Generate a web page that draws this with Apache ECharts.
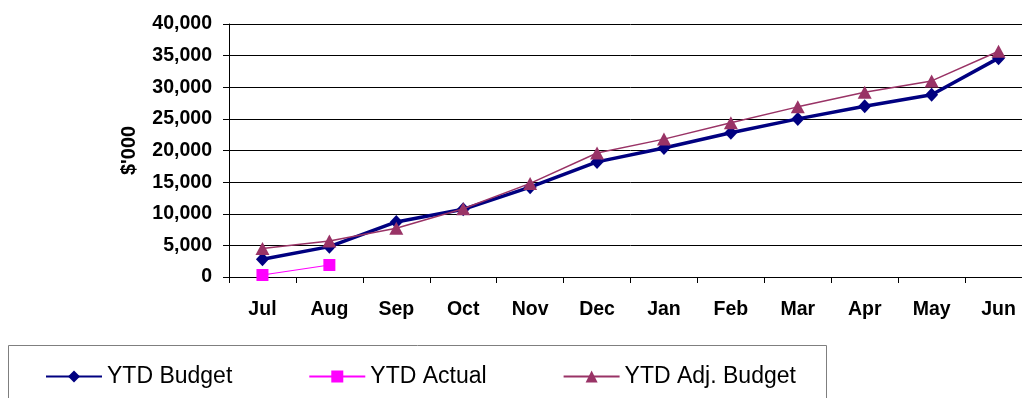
<!DOCTYPE html>
<html>
<head>
<meta charset="utf-8">
<script src="https://cdn.jsdelivr.net/npm/echarts@6/dist/echarts.min.js"></script>
<style>
  html, body { margin: 0; padding: 0; background: #fff; overflow: hidden; width: 1022px; height: 398px; }
  /* drawing surface is a little wider than the page: the last category runs off the right edge */
  #chart { width: 1032px; height: 398px; }
</style>
</head>
<body>
<div id="chart"></div>
<script>
// Financial year months
const months = ['Jul', 'Aug', 'Sep', 'Oct', 'Nov', 'Dec', 'Jan', 'Feb', 'Mar', 'Apr', 'May', 'Jun'];

// Year-to-date figures, $'000
const ytdBudget = [2800, 4800, 8700, 10700, 14200, 18200, 20400, 22800, 25000, 27000, 28800, 34600];
const ytdActual = [320, 1900, null, null, null, null, null, null, null, null, null, null];
const ytdAdjBudget = [4500, 5700, 7700, 10800, 14800, 19600, 21800, 24400, 26900, 29200, 31000, 35700];

// Value axis ticks
const yMin = 0, yMax = 40000, yStep = 5000;

const FONT = '"Liberation Sans", Arial, sans-serif';

const chart = echarts.init(document.getElementById('chart'), null, { renderer: 'canvas' });

chart.setOption({
  animation: false,
  backgroundColor: '#ffffff',
  textStyle: { fontFamily: FONT, color: '#000' },
  grid: { left: 229, top: 24, right: 0, bottom: 121, containLabel: false },
  graphic: [{
    type: 'rect',
    shape: { x: 8.5, y: 345.5, width: 818, height: 80 },
    style: { fill: 'none', stroke: '#7f7f7f', lineWidth: 1 },
    silent: true, z: -1
  }],
  legend: {
    left: 45,
    top: 365,
    padding: 0,
    itemGap: 76,
    itemWidth: 56,
    itemHeight: 15,
    textStyle: { fontFamily: FONT, fontSize: 23, color: '#000', padding: [0, 0, 0, 0] },
    data: ['YTD Budget', 'YTD Actual', 'YTD Adj. Budget']
  },
  xAxis: {
    type: 'category',
    data: months,
    boundaryGap: true,
    axisLine: { lineStyle: { color: '#000', width: 1 } },
    axisTick: { show: true, inside: false, length: 6, alignWithLabel: false, lineStyle: { color: '#000' } },
    axisLabel: { fontFamily: FONT, fontSize: 19.5, fontWeight: 'bold', color: '#000', margin: 23, interval: 0 },
    splitLine: { show: false }
  },
  yAxis: {
    type: 'value',
    min: yMin,
    max: yMax,
    interval: yStep,
    name: "$'000",
    nameLocation: 'middle',
    nameGap: 90,
    nameRotate: 90,
    nameTextStyle: { fontFamily: FONT, fontSize: 20, fontWeight: 'bold', color: '#000' },
    axisLine: { show: true, lineStyle: { color: '#000', width: 1 } },
    axisTick: { show: true, inside: false, length: 6, lineStyle: { color: '#000' } },
    axisLabel: {
      fontFamily: FONT, fontSize: 19.5, fontWeight: 'bold', color: '#000', margin: 17,
      formatter: v => v.toLocaleString('en-US')
    },
    splitLine: { show: true, lineStyle: { color: '#000', width: 1 } }
  },
  series: [
    {
      name: 'YTD Budget',
      type: 'line',
      data: ytdBudget,
      color: '#000080',
      symbol: 'diamond',
      symbolSize: [13, 14],
      lineStyle: { color: '#000080', width: 3.5 },
      itemStyle: { color: '#000080' },
      z: 3
    },
    {
      name: 'YTD Actual',
      type: 'line',
      data: ytdActual,
      color: '#ff00ff',
      symbol: 'rect',
      symbolSize: 12,
      connectNulls: false,
      lineStyle: { color: '#ff00ff', width: 1.2 },
      itemStyle: { color: '#ff00ff' },
      z: 4
    },
    {
      name: 'YTD Adj. Budget',
      type: 'line',
      data: ytdAdjBudget,
      color: '#993366',
      symbol: 'triangle',
      symbolSize: [14, 13],
      lineStyle: { color: '#993366', width: 1.5 },
      itemStyle: { color: '#993366' },
      z: 5
    }
  ]
});
</script>
</body>
</html>
